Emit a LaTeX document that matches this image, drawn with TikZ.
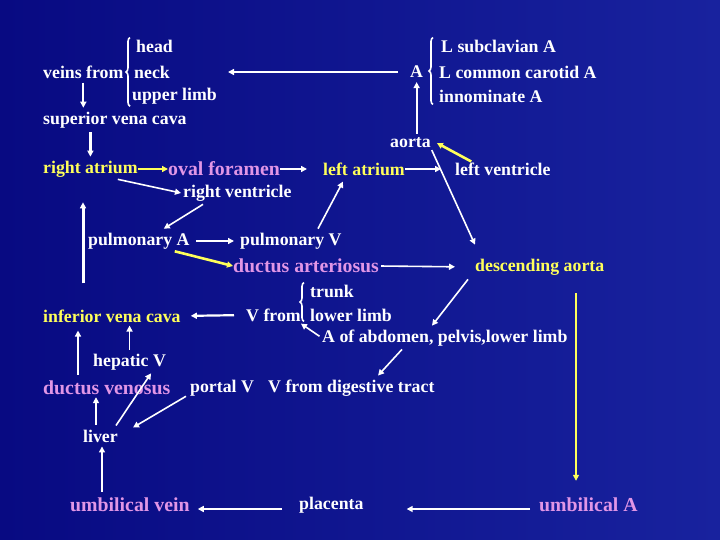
\documentclass[tikz,border=0pt]{standalone}
\usepackage{fontspec}
\setmainfont{Liberation Serif}
\usetikzlibrary{arrows.meta,decorations.pathreplacing}
\definecolor{bgblue}{RGB}{8,10,130}
\definecolor{bglight}{RGB}{24,34,158}
\definecolor{tyellow}{RGB}{255,255,90}
\definecolor{tpink}{RGB}{225,150,230}

\tikzset{
  lbl/.style={anchor=west, inner sep=0pt, text=white, font=\bfseries\fontsize{17.8}{19}\selectfont},
  ylbl/.style={lbl, text=tyellow},
  plbl/.style={lbl, text=tpink, font=\bfseries\fontsize{19.8}{21}\selectfont},
  flow/.style={white, line width=2.2pt, -{Triangle[length=6pt,width=6pt]}},
  yflow/.style={flow, tyellow},
  grp/.style={white, line width=1.6pt, decorate, decoration={brace, amplitude=4pt}}
}

\begin{document}
\begin{tikzpicture}[x=1pt,y=-1pt]
  \shade[left color=bgblue, right color=bglight] (0,0) rectangle (720,540);
  \useasboundingbox (0,0) rectangle (720,540);
  % upper body
  \node[lbl] (head) at (136,46) {head};
  \node[lbl] (veins) at (43,72) {veins from};
  \node[lbl] (neck) at (134,72) {neck};
  \node[lbl] (ul) at (132,96) {upper limb};
  \node[lbl] (svc) at (43,120) {superior vena cava};
  \node[lbl] (A) at (410,72) {A};
  \node[lbl] (lsub) at (441,46) {L subclavian A};
  \node[lbl] (lcc) at (439,72) {L common carotid A};
  \node[lbl] (inn) at (439,96) {innominate A};
  \node[lbl] (aorta) at (390,143) {aorta};
  % heart
  \node[ylbl] (ra) at (43,169) {right atrium};
  \node[plbl] (of) at (168,169) {oval foramen};
  \node[ylbl] (la) at (323,169) {left atrium};
  \node[lbl] (lv) at (455,169) {left ventricle};
  \node[lbl] (rv) at (183,193) {right ventricle};
  \node[lbl] (pa) at (88,241) {pulmonary A};
  \node[lbl] (pv) at (240,241) {pulmonary V};
  \node[plbl] (da) at (233,266) {ductus arteriosus};
  \node[ylbl] (desc) at (475,267) {descending aorta};
  % lower body
  \node[lbl] (trunk) at (310,291) {trunk};
  \node[lbl] (vfrom) at (246,315) {V from};
  \node[lbl] (ll) at (310,315) {lower limb};
  \node[lbl] (abd) at (322,338) {A of abdomen, pelvis,lower limb};
  \node[ylbl] (ivc) at (43,316) {inferior vena cava};
  \node[lbl] (hv) at (93,362) {hepatic V};
  \node[plbl] (dv) at (43,388) {ductus venosus};
  \node[lbl] (portal) at (190,388) {portal V};
  \node[lbl] (vdig) at (268,388) {V from digestive tract};
  \node[lbl] (liver) at (83,436) {liver};
  \node[plbl] (uv) at (70,505) {umbilical vein};
  \node[lbl] (plac) at (299,505) {placenta};
  \node[plbl] (ua) at (539,505) {umbilical A};

  % braces
  \draw[grp] ([xshift=-2pt,yshift=-2pt]ul.south west) -- ([xshift=-2pt,yshift=2pt]ul.south west |- head.north);
  \draw[grp] ([xshift=-6pt,yshift=-2pt]inn.south west) -- ([xshift=-6pt,yshift=2pt]inn.south west |- lsub.north);
  \draw[grp] ([xshift=-6pt,yshift=0pt]ll.south west) -- ([xshift=-6pt,yshift=2pt]ll.south west |- trunk.north);

  % arrows
  \draw[flow] ([yshift=-4pt]veins.south) -- ([yshift=4pt]veins.south |- svc.north);
  \draw[flow] ([yshift=-4pt]ra.north |- svc.south) -- ([yshift=4pt]ra.north);
  \draw[yflow, line width=2.6pt] (ra.east) -- (of.west);
  \draw[flow, line width=1.6pt, shorten >=16pt] (of.east) -- (la.west);
  \draw[flow, line width=1.6pt, shorten >=14pt] (la.east) -- (lv.west);
  \draw[yflow, line width=2.6pt, shorten <=2pt] ([xshift=18pt]lv.north west) -- ([xshift=6pt]aorta.east);
  \draw[flow, shorten <=4pt] (A.south |- aorta.north) -- ([yshift=-4pt]A.south);
  \draw[flow, line width=2.6pt] ([xshift=-12pt]A.west) -- ([xshift=58pt]neck.east);
  \draw[flow, line width=1.6pt, shorten <=2pt] (aorta.south east) -- ([yshift=14pt]desc.north west);
  \draw[flow, line width=1.6pt] ([xshift=-20pt,yshift=-2pt]ra.south east) -- ([xshift=-2pt]rv.west);
  \draw[flow, line width=1.6pt] ([xshift=20pt,yshift=-3pt]rv.south west) -- ([xshift=-26pt,yshift=4pt]pa.north east);
  \draw[flow, line width=1.6pt, shorten <=6pt, shorten >=6pt] (pa.east) -- (pv.west);
  \draw[flow, line width=1.6pt] ([xshift=78pt,yshift=4pt]pv.north west) -- ([xshift=20pt,yshift=-6pt]la.south west);
  \draw[yflow, line width=2.6pt] ([xshift=-15pt,yshift=-2pt]pa.south east) -- (da.west);
  \draw[flow, line width=1.6pt, shorten <=2pt, shorten >=20pt] (da.east) -- (desc.west);
  \draw[flow, line width=1.6pt] ([xshift=-7pt,yshift=-4pt]desc.south west) -- ([xshift=110pt,yshift=4pt]abd.north west);
  \draw[flow, line width=1.6pt, shorten <=3pt] (abd.west) -- ([yshift=-2pt]vfrom.south east);
  \draw[flow, shorten <=12pt, shorten >=10pt] (vfrom.west) -- (ivc.east);
  \draw[flow, line width=1.6pt] ([xshift=80pt,yshift=-3pt]abd.south west) -- ([xshift=110pt,yshift=4pt]vdig.north west);
  \draw[flow, line width=1.6pt] ([xshift=-4pt]portal.south west) -- ([xshift=15pt,yshift=2pt]liver.north east);
  \draw[flow, line width=1.6pt] ([xshift=-2pt,yshift=4pt]liver.north east) -- ([xshift=-15pt,yshift=-3pt]hv.south east);
  \draw[flow, line width=1.6pt] ([yshift=4pt]hv.north) -- ([yshift=-3pt]hv.north |- ivc.south);
  \draw[flow] ([xshift=35pt,yshift=6pt]dv.north west) -- ([xshift=35pt,yshift=-8pt]ivc.south west);
  \draw[flow] ([xshift=13pt,yshift=5pt]liver.north west) -- ([xshift=13pt,yshift=-2pt]liver.north west |- dv.south);
  \draw[flow] ([xshift=32pt,yshift=6pt]uv.north west) -- ([xshift=32pt,yshift=-4pt]uv.north west |- liver.south);
  \draw[flow, line width=2.6pt, shorten <=17pt, shorten >=8pt] ([yshift=-4pt]plac.west) -- ([yshift=-4pt]plac.west -| uv.east);
  \draw[flow, line width=2.6pt, shorten <=9pt, shorten >=43pt] ([yshift=-4pt]ua.west) -- ([yshift=-4pt]ua.west -| plac.east);
  \draw[yflow, line width=2.6pt] ([xshift=101pt,yshift=-18pt]desc.south west) -- ([xshift=37pt,yshift=17pt]ua.north west);
  \draw[flow, line width=3pt] ([xshift=40pt,yshift=26pt]ivc.north west) -- ([xshift=40pt,yshift=-25pt]ra.south west);
\end{tikzpicture}
\end{document}
